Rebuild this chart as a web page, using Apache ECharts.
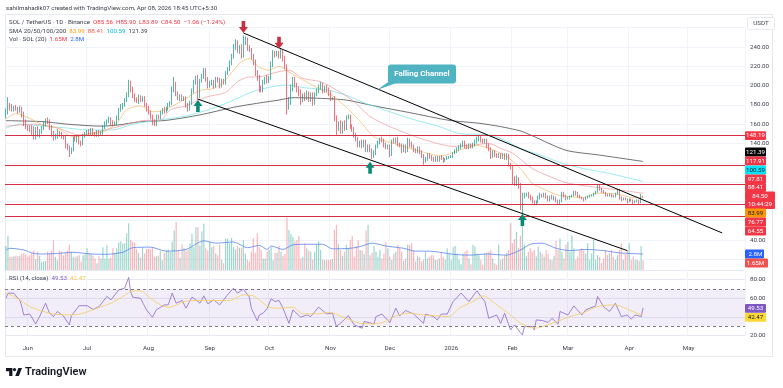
<!DOCTYPE html>
<html>
<head>
<meta charset="utf-8">
<title>SOL / TetherUS</title>
<script src="https://cdn.jsdelivr.net/npm/echarts@6/dist/echarts.min.js"></script>
<style>
  html, body { margin: 0; padding: 0; background: #fff; }
  #main { width: 783px; height: 388px; }
</style>
</head>
<body>
<div id="main"></div>
<script>
// daily closes from 21 May 2025
var closes = [
  172,179,177,175,177,176,174,176,170,162,
  157,156,155,152,148,155,150,152,156,160,
  164,163,157,150,146,148,151,149,147,146,
  138,135,131,134,145,144,146,141,140,148,
  150,152,151,154,150,149,152,150,151,157,
  161,163,165,162,160,161,166,175,178,180,
  185,190,202,196,190,186,184,188,185,187,
  180,176,172,168,162,160,168,167,172,175,
  174,176,180,182,196,200,192,187,189,186,
  187,180,176,182,195,203,207,190,205,209,
  215,207,200,203,204,200,207,205,200,205,
  203,213,217,224,230,240,244,237,240,232,
  244,247,240,237,230,224,214,208,198,196,
  203,207,205,208,222,234,232,233,231,234,
  228,221,181,183,197,206,201,196,193,186,
  190,187,192,186,190,183,191,194,198,200,
  195,198,196,192,187,187,166,156,160,153,
  161,156,167,168,158,155,148,145,139,141,
  138,142,134,137,133,127,130,137,141,144,
  143,139,136,137,129,143,142,144,139,138,
  133,137,133,143,139,137,133,132,135,131,
  127,122,124,128,126,124,123,125,123,126,
  124,122,124,125,126,127,130,132,134,136,
  138,141,137,136,138,137,139,142,144,146,
  143,142,143,138,134,127,131,128,127,128,
  126,128,125,128,118,116,103,99,103,97,
  77,86,87,88,85,83,80,78,79,84,
  87,86,87,85,82,85,83,84,81,79,
  80,88,86,83,84,85,86,90,88,86,
  84,83,82,84,85,86,86,88,90,95,
  93,91,89,87,86,87,86,85,88,91,
  84,82,83,82,80,82,81,79,80,81,
  79,85.56,84.5
];
var firstOpen = 168;
var wicksUp = [
  4,9,3,4,2,3,2,3,2,3, 3,2,3,4,6,2,3,3,2,3, 2,3,2,2,3,2,4,2,3,2, 3,2,3,2,2,3,2,3,2,2,
  2,2,3,2,2,2,2,2,2,2, 2,2,3,2,2,2,3,2,3,2, 2,3,4,3,3,2,2,3,2,2, 2,2,3,2,2,3,2,2,2,2,
  3,2,2,2,3,9,4,2,2,2, 2,2,2,2,2,3,3,4,2,3, 3,3,2,2,2,2,2,2,3,2, 2,2,2,2,3,3,4,3,2,3,
  8,4,3,2,2,3,3,2,3,2, 3,2,4,2,3,3,2,3,3,4, 3,3,1,5,4,3,3,2,3,3, 2,3,3,2,3,3,2,3,3,4,
  3,2,3,2,3,1,2,3,3,4, 2,3,2,2,2,2,2,3,2,2, 3,2,2,2,2,2,3,2,2,2, 3,2,2,2,2,1,3,2,3,2,
  2,2,2,3,2,3,2,2,2,2, 2,2,2,2,2,2,2,2,2,1, 2,2,1,2,1,1,1,2,2,2, 2,2,2,2,2,2,2,2,3,2,
  2,2,2,2,2,2,2,2,2,2, 2,2,2,2,1,2,2,3,4,2, 2,3,2,1,2,2,2,1,2,2, 2,1,2,2,1,1,2,2,1,1,
  2,2,2,1,1,1,1,1,1,2, 1,1,1,1,1,1,1,1,1,2, 2,1,1,1,1,1,1,1,1,2, 2,1,1,1,1,1,1,1,1,1,
  1,2,0.34
];
var wicksDown = [
  2,2,3,2,2,2,3,2,3,4, 2,3,3,3,4,4,3,4,2,2, 2,3,3,3,3,2,3,2,2,2, 3,2,5,2,2,2,3,2,3,2,
  2,2,2,2,2,2,2,3,2,2, 2,2,2,3,2,2,2,2,2,3, 2,2,2,3,3,3,2,3,2,2, 2,3,2,3,3,2,2,2,2,2,
  3,2,2,2,2,3,3,2,3,2, 2,3,3,2,2,3,2,5,3,2, 2,3,3,2,3,3,2,2,3,2, 2,2,2,2,3,2,3,3,4,4,
  3,2,4,2,3,3,4,3,5,3, 3,2,3,2,2,3,3,2,3,3, 3,4,11,6,3,3,3,3,4,6, 3,3,2,3,3,4,3,2,2,2,
  3,2,3,3,3,2,3,7,3,3, 3,3,2,2,3,3,2,3,3,3, 3,2,3,3,2,3,2,2,2,2, 2,3,2,2,3,2,2,2,2,2,
  3,2,3,2,3,2,2,2,2,2, 2,4,2,2,2,2,2,2,2,2, 1,2,1,1,1,1,2,1,2,2, 2,2,2,2,2,2,2,2,2,2,
  2,2,2,3,2,3,2,2,2,2, 2,2,2,2,2,3,5,3,3,4, 6,13,3,2,2,2,2,2,2,1, 2,2,2,2,2,2,1,2,2,2,
  2,1,2,2,1,2,1,1,2,2, 1,1,2,1,1,1,1,1,1,1, 2,2,1,2,1,1,2,1,1,1, 2,2,1,1,2,1,1,2,1,1,
  2,1,0.61
];
// volume in millions
var volumes = [
  4.2,6.0,2.3,2.3,2.4,2.5,2.4,2.5,2.8,3.0,
  2.7,2.3,2.6,3.0,3.4,1.9,3.2,2.5,1.4,1.5,
  1.6,3.2,3.0,3.4,5.2,2.3,1.7,3.4,3.2,2.6,
  3.0,3.4,4.4,3.2,2.2,2.3,2.4,2.6,1.5,2.6,
  2.8,3.8,3.0,2.8,2.5,2.0,1.2,2.4,2.0,4.0,
  2.0,4.3,2.0,2.2,3.8,3.0,3.8,4.8,5.0,4.6,
  4.7,6.4,8.2,5.3,5.0,4.8,3.7,3.0,2.2,4.0,
  2.9,3.7,3.7,3.6,4.0,2.3,2.4,2.5,3.3,1.7,
  3.0,3.4,3.6,3.2,5.0,6.9,8.4,3.5,2.2,4.5,
  3.8,3.4,3.5,4.6,6.3,4.0,7.5,7.5,4.3,6.8,
  8.1,3.8,3.4,5.0,4.0,4.2,2.9,2.6,4.4,1.8,
  1.2,5.5,5.5,4.7,5.6,4.0,3.6,4.2,3.9,3.9,
  5.2,2.9,1.8,1.5,3.2,5.6,3.0,6.4,4.0,3.5,
  2.0,2.0,3.2,3.5,4.0,1.7,3.0,3.0,4.2,3.2,
  2.5,2.8,9.2,7.0,6.3,5.8,5.0,5.2,6.0,2.0,
  2.3,4.7,3.8,3.4,3.2,1.8,3.2,4.4,5.0,3.5,
  1.8,1.7,1.8,1.8,1.8,1.9,7.0,7.9,4.5,3.5,
  2.5,3.2,4.4,3.8,5.3,6.0,2.3,4.2,5.2,3.5,
  3.4,2.8,6.9,7.9,2.6,3.0,4.2,3.2,2.3,3.5,
  2.0,2.9,4.9,3.8,2.3,1.8,2.9,3.2,4.4,3.9,
  3.2,1.6,2.0,4.4,4.4,4.7,3.5,1.5,2.5,2.3,
  1.5,1.8,3.2,2.0,2.3,2.6,2.6,1.8,1.8,2.0,
  3.2,2.3,1.8,3.8,2.9,1.8,4.0,4.2,2.9,1.8,
  1.0,2.9,3.2,3.5,2.0,1.0,4.4,4.1,2.9,2.6,
  1.8,0.9,2.9,3.0,3.2,3.5,2.0,1.2,0.9,4.4,
  1.8,2.0,2.6,3.0,3.5,8.2,4.7,5.4,6.7,3.9,
  6.0,10.0,4.4,2.4,3.2,3.8,3.2,3.5,2.4,4.1,
  3.2,2.9,2.3,3.5,2.9,1.8,1.8,2.5,5.1,3.5,
  5.5,3.2,2.0,4.4,4.9,3.2,6.1,3.8,1.8,2.3,
  3.5,3.8,3.4,2.9,4.7,1.8,2.9,5.3,1.8,2.6,
  2.3,1.2,2.0,3.5,2.6,2.9,3.5,2.3,1.8,2.6,
  3.5,4.7,1.8,2.8,3.5,4.7,1.8,2.3,1.8,1.8,
  1.6,4.2,1.65
];
// moving averages are read every few days: [day number, value]
var sma20 = [[0,166],[5,171],[12,166],[19,159],[26,156],[34,147],[41,149],[49,152],[56,161],[61,175],[68,179],[74,173],[79,174],[88,183],[98,195],[105,197],[111,206],[118,223],[123,228],[128,219],[133,216],[138,220],[143,214],[150,206],[158,197],[166,188],[172,177.5],[179,163],[186,147],[196,140],[204,135],[212,130.5],[220,127],[229,133],[238,138],[244,135],[253,126.5],[260,114],[266,98.7],[271,93.5],[279,86.6],[285,85],[292,84],[298,88.4],[308,88],[317,83.9],[322,83.99]];
var sma50 = [[0,158],[14,160],[26,156],[37,149],[56,157],[71,164],[78,164],[83,175],[91,179],[101,188],[111,193],[117,204],[123,209],[128,209],[135,213],[143,216],[150,207.5],[159,204],[167,195.5],[175,185],[184,168],[194,157.5],[207,147],[218,140],[226,137],[236,138.5],[244,140],[250,135],[256,130],[266,114],[275,105.6],[283,99.4],[293,96],[303,93.5],[313,91],[322,88.41]];
var sma100 = [[0,156],[7,160],[19,158],[31,156],[42,154],[54,154],[64,160],[76,164],[91,168.5],[106,177.5],[115,185],[125,194],[135,199],[142,200.6],[150,198],[162,195.5],[172,190],[180,183],[189,176.5],[204,166],[219,157.5],[229,150.5],[243,149],[250,145],[260,135],[270,128],[281,119.5],[292,114],[305,109],[322,100.59]];
var sma200 = [[0,163.7],[19,162.6],[31,160],[48,158],[56,159],[68,162.6],[81,164],[98,169.6],[115,177.5],[128,182],[138,185],[145,187.5],[159,186.8],[172,185],[186,179],[204,172],[224,164],[239,161],[250,157.5],[260,153],[266,148],[283,133],[300,128],[322,121.39]];
var volSma = [[0,3.5],[2,3.8],[9,3.5],[14,2.9],[19,2.8],[26,2.9],[34,3.1],[43,2.8],[51,2.75],[59,3.1],[64,3.9],[73,4],[81,3.3],[91,3.6],[100,5.1],[106,4.7],[115,4.9],[122,3.9],[128,4.3],[132,3.6],[134,4.2],[140,3.6],[145,4.4],[152,4.5],[160,4.5],[165,3.7],[174,3.8],[179,4.1],[185,4.7],[192,4.2],[201,3.8],[207,3.3],[214,3.3],[226,2.75],[234,2.6],[243,2.8],[253,2.6],[260,3.5],[265,4.5],[271,4.7],[278,3.8],[285,3.4],[293,3.6],[302,3.4],[310,3],[322,2.8]];
var rsi = [[0,60],[1,65.5],[4,65.5],[5,62.6],[7,58.3],[8,51],[9,42],[12,43],[15,32.4],[17,40.3],[20,54.7],[22,43.9],[24,40.3],[26,45.7],[29,41],[32,31.3],[33,41],[37,52],[41,52],[44,48],[47,51],[51,62],[53,58.3],[57,69],[60,70.9],[62,82.4],[63,67.3],[64,61.2],[68,60],[71,47.5],[74,39.6],[76,47.5],[80,52.9],[82,52.9],[84,65.5],[86,54.7],[89,57.6],[91,49.3],[94,61.2],[96,58.3],[98,54.7],[100,62.6],[102,54],[105,58.3],[108,52.9],[112,63.7],[115,70.9],[117,65.5],[120,69.8],[123,61.2],[124,49.3],[127,35.6],
  [128,42],[130,44],[132,49],[134,59.4],[136,56.5],[138,57.6],[140,49.3],[143,33],[145,47.5],[149,39.6],[152,42],[154,40.3],[158,50.4],[162,43.2],[165,44],[167,29.5],[170,35],[173,41.4],[176,31.3],[180,27.7],[181,35],[186,32.4],[187,40.3],[190,43],[194,33.8],[197,49.3],[199,41],[202,46.8],[206,43],[211,33],[212,43],[216,40.3],[218,36.7],[220,43],[223,43],[226,56.5],[230,65.5],[234,56.5],[238,68],[240,61.9],[242,56.5],[244,38.5],[248,42],[250,33],[252,43.9],[255,25.9],[257,31.3],[260,23],
  [261,20.5],[262,29.5],[266,29.5],[267,25.9],[268,36.7],[271,36],[274,34],[276,38.5],[279,32],[280,45.7],[284,42],[287,51.8],[291,42],[293,47.5],[298,51.8],[299,61.9],[302,51],[305,45.7],[308,54.5],[311,40.3],[314,42],[316,37.4],[318,42],[321,40.3],[322,49.53]];
var rsiMa = [[0,65.5],[5,61],[12,51],[19,45.7],[25,42.8],[33,42],[39,43.9],[46,49.3],[53,54.7],[59,61.9],[63,67.3],[68,68],[73,60],[79,51.8],[83,50.4],[90,56.5],[98,57.6],[106,57.6],[113,57.6],[120,63.7],[125,62.6],[128,58.3],[133,50.4],[138,49.3],[145,50.4],[150,43.2],[157,43.2],[164,44.6],[170,40],[179,33],[186,32.4],[192,35],[197,41],[204,44],[211,42],[218,41],[224,40.3],[229,49.3],[236,56.5],[241,62.6],[248,53],[255,42],[260,33],[267,27.7],[276,33],[285,40.3],[292,44.6],[299,51.1],[308,52.9],[315,47.5],[320,42.8],[322,42.47]];
// horizontal levels and channel ends [day number, price]
var levels = [148.19, 117.91, 97.81, 76.77, 64.55];
var upperChannel = [[120,254.5],[362,47.3]];
var lowerChannel = [[97,186],[314,29]];
var arrowsDown = [[120,260.7],[138,244.5]];
var arrowsUp = [[97,178.9],[184,115],[261,60.7]];
var priceTicks = [240,220,200,180,160,140,40];
var rsiTicks = [80,60,20];
var monthNames = ['Jan','Feb','Mar','Apr','May','Jun','Jul','Aug','Sep','Oct','Nov','Dec'];

var UP = '#089981', DOWN = '#f23645';
var FONT = 'Roboto, sans-serif';
var SMALL = '6.2px ' + FONT;
var AXIS_TEXT = '#3a3e4a';

// category per day, the axis runs on past the last candle
var days = [];
for (var d = 0; d < 374; d++) {
    var dt = new Date(Date.UTC(2025, 4, 21 + d));
    days.push(dt.toISOString().slice(0, 10));
}
var isMonthStart = function (index, value) { return value.slice(8) === '01'; };

var candles = closes.map(function (c, i) {
    var o = i === 0 ? firstOpen : closes[i - 1];
    return [o, c, Math.min(o, c) - wicksDown[i], Math.max(o, c) + wicksUp[i]];
});
var volBars = volumes.map(function (v, i) {
    var up = candles[i][1] >= candles[i][0];
    return { value: v, itemStyle: { color: up ? 'rgba(8,153,129,0.4)' : 'rgba(242,54,69,0.36)' } };
});

function maLine(data, color, width, xIdx, yIdx) {
    return {
        type: 'line', data: data, xAxisIndex: xIdx, yAxisIndex: yIdx,
        showSymbol: false, smooth: 0.25, silent: true,
        lineStyle: { color: color, width: width }
    };
}
function channel(data) {
    return {
        type: 'line', data: data, showSymbol: false, silent: true, z: 6,
        lineStyle: { color: '#000', width: 1 }
    };
}
function arrows(data, path, color) {
    return {
        type: 'scatter', data: data, symbol: path, symbolSize: [9, 12],
        itemStyle: { color: color, opacity: 1 }, clip: false, silent: true, z: 7
    };
}
function rowText(x, y, text, colours) {
    var rich = {};
    Object.keys(colours).forEach(function (k) { rich[k] = { fill: colours[k], font: SMALL }; });
    return { type: 'text', x: x, y: y, z: 21, style: { text: text, verticalAlign: 'middle', font: SMALL, rich: rich } };
}

// price tags on the right hand side: text, centre y, width, fill, text colour
var badges = [
    ['148.19', 135.6, 21, DOWN, '#fff'],
    ['121.39', 152, 21, '#000', '#fff'],
    ['117.91', 161, 21, DOWN, '#fff'],
    ['100.59', 170, 21, '#00e5ff', '#131722'],
    ['97.81', 179, 21, DOWN, '#fff'],
    ['88.41', 187.5, 21, DOWN, '#fff'],
    ['84.50', 196, 30, DOWN, '#fff'],
    ['10:44:29', 204.5, 30, DOWN, '#fff'],
    ['83.99', 213, 21, '#ff9800', '#131722'],
    ['76.77', 222, 21, DOWN, '#fff'],
    ['64.55', 231, 21, DOWN, '#fff'],
    ['2.8M', 254, 19, '#2962ff', '#fff'],
    ['1.65M', 263, 23, '#ef5350', '#fff'],
    ['49.53', 308.3, 21, '#7e57c2', '#fff'],
    ['42.47', 317.3, 21, '#fdd835', '#131722']
];

var graphics = [
    { type: 'rect', shape: { x: 5.5, y: 14.5, width: 767, height: 342 }, style: { fill: 'none', stroke: '#e6e8ef', lineWidth: 1 }, z: 0 },
    { type: 'rect', shape: { x: 747.5, y: 17.5, width: 27, height: 12, r: 2 }, style: { fill: '#fff', stroke: '#e6e8ef', lineWidth: 1 }, z: 20 },
    { type: 'text', x: 761, y: 23.5, style: { text: 'USDT', font: SMALL, fill: AXIS_TEXT, align: 'center', verticalAlign: 'middle' }, z: 21 },
    rowText(6, 8, '{k|sahilmahadik07 created with TradingView.com, Apr 08, 2026 18:45 UTC+5:30}', { k: AXIS_TEXT }),
    rowText(9, 22.5, '{k|SOL / TetherUS · 1D · Binance}  {r|O85.56}  {r|H85.90}  {r|L83.89}  {r|C84.50}  {r|−1.06 (−1.24%)}', { k: AXIS_TEXT, r: DOWN }),
    rowText(9, 31, '{k|SMA 20/50/100/200}  {o|83.99}  {r|88.41}  {c|100.59}  {k|121.39}', { k: AXIS_TEXT, o: '#ff9800', r: '#ef5350', c: '#00bcd4' }),
    rowText(9, 39.5, '{k|Vol · SOL (20)}  {r|1.65M}  {b|2.8M}', { k: AXIS_TEXT, r: DOWN, b: '#2962ff' }),
    rowText(9, 278.5, '{k|RSI (14, close)}  {p|49.53}  {y|42.47}', { k: AXIS_TEXT, p: '#7e57c2', y: '#f9c74f' }),
    // callout
    { type: 'polygon', shape: { points: [[377, 90], [391, 80], [402, 81]] }, style: { fill: '#4fb3c2' }, z: 19 },
    { type: 'rect', shape: { x: 388, y: 64.5, width: 68, height: 19, r: 3 }, style: { fill: '#4fb3c2' }, z: 19 },
    { type: 'text', x: 422, y: 74, style: { text: 'Falling Channel', font: 'bold 8px ' + FONT, fill: '#fff', align: 'center', verticalAlign: 'middle' }, z: 20 },
    // logo
    { type: 'polygon', shape: { points: [[6, 368], [12.4, 368], [12.4, 376], [9.2, 376], [9.2, 371.2], [6, 371.2]] }, style: { fill: '#131722' }, z: 20 },
    { type: 'polygon', shape: { points: [[18.9, 376], [15.2, 376], [18.4, 368], [22, 368]] }, style: { fill: '#131722' }, z: 20 },
    { type: 'circle', shape: { cx: 14.5, cy: 369.6, r: 1.6 }, style: { fill: '#131722' }, z: 20 },
    { type: 'text', x: 25, y: 372.5, style: { text: 'TradingView', font: '600 11px ' + FONT, fill: '#131722', verticalAlign: 'middle' }, z: 20 }
];
badges.forEach(function (b) {
    graphics.push({ type: 'rect', shape: { x: 745, y: b[1] - 4.4, width: b[2], height: 8.8, r: 1 }, style: { fill: b[3] }, z: 15 });
    graphics.push({ type: 'text', x: 745 + (b[2] > 25 ? b[2] : 21) / 2, y: b[1] + 0.3, style: { text: b[0], font: SMALL, fill: b[4], align: 'center', verticalAlign: 'middle' }, z: 16 });
});

var myChart = echarts.init(document.getElementById('main'));

var option = {
    animation: false,
    backgroundColor: '#fff',
    textStyle: { fontFamily: FONT },
    grid: [
        { left: 5, width: 740, top: 27.7, height: 231.6 },   // price
        { left: 5, width: 740, top: 210, height: 60 },       // volume
        { left: 5, width: 740, top: 270.4, height: 65 }      // rsi
    ],
    xAxis: [
        { type: 'category', data: days, gridIndex: 0, axisLine: { show: false }, axisTick: { show: false }, axisLabel: { show: false },
          splitLine: { show: true, interval: isMonthStart, lineStyle: { color: '#f0f3fa', width: 1 } } },
        { type: 'category', data: days, gridIndex: 1, show: false },
        { type: 'category', data: days, gridIndex: 2, axisLine: { show: false }, axisTick: { show: false },
          splitLine: { show: true, interval: isMonthStart, lineStyle: { color: '#f0f3fa', width: 1 } },
          axisLabel: {
              interval: isMonthStart, margin: 10, fontSize: 6.2, color: AXIS_TEXT,
              formatter: function (v) {
                  var m = parseInt(v.slice(5, 7), 10) - 1;
                  return m === 0 ? v.slice(0, 4) : monthNames[m];
              }
          } }
    ],
    yAxis: [
        { type: 'value', gridIndex: 0, position: 'right', min: 20, max: 260, interval: 20,
          axisLine: { show: false }, axisTick: { show: false },
          splitLine: { lineStyle: { color: '#f0f3fa', width: 1 } },
          axisLabel: { margin: 5, fontSize: 6.2, color: AXIS_TEXT, showMinLabel: true, showMaxLabel: true,
              formatter: function (v) { return priceTicks.indexOf(v) >= 0 ? v.toFixed(2) : ''; } } },
        { type: 'value', gridIndex: 1, min: 0, max: 10.5, show: false },
        { type: 'value', gridIndex: 2, position: 'right', min: 20, max: 90, interval: 20,
          axisLine: { show: false }, axisTick: { show: false },
          splitLine: { lineStyle: { color: '#e8e9f2', width: 1 } },
          axisLabel: { margin: 5, fontSize: 6.2, color: AXIS_TEXT,
              formatter: function (v) { return rsiTicks.indexOf(v) >= 0 ? v.toFixed(2) : ''; } } }
    ],
    series: [
        { type: 'bar', data: volBars, xAxisIndex: 1, yAxisIndex: 1, barWidth: 1.2, silent: true, z: 1 },
        maLine(volSma, '#5b84f0', 0.8, 1, 1),
        maLine(sma200, '#333', 0.7, 0, 0),
        maLine(sma100, '#7fe6ee', 0.8, 0, 0),
        maLine(sma50, '#f0989c', 0.7, 0, 0),
        maLine(sma20, '#f8b765', 0.7, 0, 0),
        {
            type: 'candlestick', data: candles, barWidth: 1.1, silent: true, z: 4,
            itemStyle: { color: UP, color0: DOWN, borderColor: UP, borderColor0: DOWN, borderWidth: 0.7 },
            markLine: {
                silent: true, symbol: 'none', animation: false, z: 5,
                label: { show: false },
                lineStyle: { color: '#d42f42', width: 1, type: 'solid' },
                data: levels.map(function (v) { return { yAxis: v }; })
            }
        },
        channel(upperChannel),
        channel(lowerChannel),
        arrows(arrowsDown, 'path://M3 0H7V6H10L5 12L0 6H3Z', '#c9303f'),
        arrows(arrowsUp, 'path://M3 12H7V6H10L5 0L0 6H3Z', '#0a8a74'),
        {
            type: 'line', data: rsi, xAxisIndex: 2, yAxisIndex: 2, showSymbol: false, silent: true, z: 3,
            lineStyle: { color: '#8a67c9', width: 0.8 },
            markArea: { silent: true, itemStyle: { color: 'rgba(126,87,194,0.1)' }, data: [[{ yAxis: 70 }, { yAxis: 30 }]] },
            markLine: { silent: true, symbol: 'none', animation: false, label: { show: false },
                lineStyle: { color: '#787b86', width: 1, type: [3, 3] }, data: [{ yAxis: 70 }, { yAxis: 30 }] }
        },
        maLine(rsiMa, '#f5cf6b', 0.9, 2, 2)
    ],
    graphic: { elements: graphics }
};
myChart.setOption(option);
</script>
</body>
</html>
